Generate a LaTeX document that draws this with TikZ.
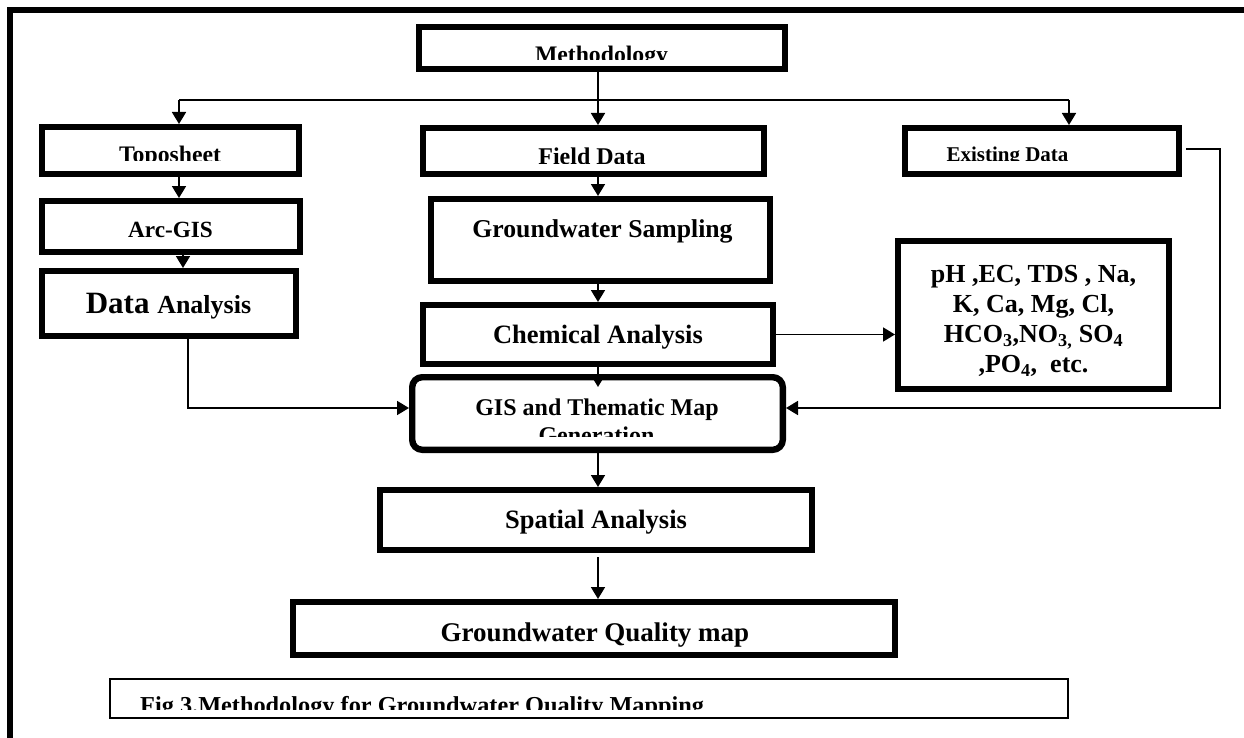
\documentclass[tikz,border=0pt]{standalone}
\usepackage{fontspec}
\setmainfont{Liberation Serif}
\usetikzlibrary{arrows.meta}
\tikzset{
  bx/.style={draw, line width=6.4bp, inner sep=0pt},
  thinbx/.style={draw, line width=2bp, inner sep=0pt},
  ln/.style={line width=1.8bp},
  arr/.style={line width=1.8bp, -{Triangle[length=12bp,width=14bp]}},
  tx/.style={anchor=base, inner sep=0pt, font=\bfseries\fontsize{#1bp}{#1bp}\selectfont},
}
\begin{document}
\begin{tikzpicture}[x=1bp,y=-1bp]
\useasboundingbox (0,0) rectangle (1244,738);
% outer frame
\draw[line width=5.5bp] (10,738) -- (10,10) -- (1244,10);

% boxes
\node[bx, minimum width=365.6bp, minimum height=41.6bp] (meth) at (602,48) {};
\node[bx, minimum width=256.6bp, minimum height=46.6bp] (topo) at (170.5,150.5) {};
\node[bx, minimum width=340.6bp, minimum height=45.6bp] (fd) at (593.5,151) {};
\node[bx, minimum width=273.6bp, minimum height=45.6bp] (ex) at (1042,151) {};
\node[bx, minimum width=257.6bp, minimum height=50.6bp] (arc) at (171,226.5) {};
\node[bx, minimum width=253.6bp, minimum height=64.6bp] (da) at (169,303.5) {};
\node[bx, minimum width=338.6bp, minimum height=81.6bp] (gs) at (600.5,240) {};
\node[bx, minimum width=349.6bp, minimum height=58.6bp] (chem) at (598,334.5) {};
\node[bx, minimum width=270.6bp, minimum height=147.6bp] (par) at (1033.5,315) {};
\node[bx, rounded corners=10bp, minimum width=370.6bp, minimum height=72.6bp] (gis) at (597.5,413.5) {};
\node[bx, minimum width=431.6bp, minimum height=59.6bp] (sp) at (596,520) {};
\node[bx, minimum width=601.6bp, minimum height=52.6bp] (gq) at (594,628.5) {};
\node[thinbx, minimum width=958bp, minimum height=39bp] (cap) at (589,698.5) {};

% texts (some clipped at the bottom as in the reference)
\begin{scope}
  \clip (416,24) rectangle (788,59.5);
  \node[tx=23.7] (tmeth) at (601.5,62.7) {Methodology};
\end{scope}
\begin{scope}
  \clip (39,124) rectangle (302,160);
  \node[tx=23.7] (ttopo) at (170,162.7) {Toposheet};
\end{scope}
\begin{scope}
  \clip (420,125) rectangle (767,163);
  \node[tx=24] (tfd) at (592,164) {Field Data};
\end{scope}
\begin{scope}
  \clip (902,125) rectangle (1182,160);
  \node[tx=21] (tex) at (1007.5,161) {Existing Data};
\end{scope}
\node[tx=23.2] (tarc) at (170.5,237) {Arc-GIS};
\node[anchor=base, inner sep=0pt, font=\bfseries] (tda) at (168.5,313)
  {\fontsize{31bp}{31bp}\selectfont Data \fontsize{26bp}{26bp}\selectfont Analysis};
\node[tx=25.7] (tgs) at (602.5,237) {Groundwater Sampling};
\node[tx=26.5] (tchem) at (598,343) {Chemical Analysis};
\node[anchor=center, inner sep=0pt, align=center,
      font=\bfseries\fontsize{26bp}{30bp}\selectfont] (tpar) at (1033.5,321)
  {pH ,EC, TDS , Na,\\K, Ca, Mg, Cl,\\HCO\textsubscript{3},NO\textsubscript{3,} SO\textsubscript{4}\\,PO\textsubscript{4},\ \ etc.};
\node[tx=24] (tgis) at (597,415.5) {GIS and Thematic Map};
\begin{scope}
  \clip (409,374) rectangle (786,436);
  \node[tx=24] (tgen) at (596.5,443) {Generation};
\end{scope}
\node[tx=26.5] (tsp) at (596,528) {Spatial Analysis};
\node[tx=27] (tgq) at (595,641) {Groundwater Quality map};
\begin{scope}
  \clip (109,678) rectangle (1069,709);
  \node[tx=24.3, anchor=base west] (tcap) at (140,713) {Fig 3.Methodology for Groundwater Quality Mapping};
\end{scope}

% helper coordinates
\coordinate (spine) at (598,0);
\coordinate (jL) at (179,100);
\coordinate (jR) at (1069,100);
\coordinate (adx) at (183,0);
\coordinate (dax) at (188,408);
\coordinate (exr) at (1220,149);
\coordinate (exo) at ([xshift=4bp]ex.east);
\coordinate (gisin) at ([yshift=-13bp]gis.north);
\coordinate (spo) at ([yshift=-4bp]sp.south);

% connectors
\draw[arr] (meth.south -| spine) -- (fd.north -| spine);
\draw[ln] (jL) -- (jR);
\draw[arr] (jL) -- (jL |- topo.north);
\draw[arr] (jR) -- (jR |- ex.north);
\draw[arr] (topo.south -| jL) -- (arc.north -| jL);
\draw[arr] (arc.south -| adx) -- (da.north -| adx);
\draw[arr] (fd.south -| spine) -- (gs.north -| spine);
\draw[arr] (gs.south -| spine) -- (chem.north -| spine);
\draw[arr] (chem.south -| spine) -- (gisin -| spine);
\draw[arr] (da.south -| dax) |- (gis.west |- dax);
\draw[arr] (exo |- exr) -- (exr) |- (gis.east |- dax);
\draw[arr] (chem.east) -- (chem.east -| par.west);
\draw[arr] (gis.south -| spine) -- (sp.north -| spine);
\draw[arr] (spo -| spine) -- (gq.north -| spine);
\end{tikzpicture}
\end{document}
